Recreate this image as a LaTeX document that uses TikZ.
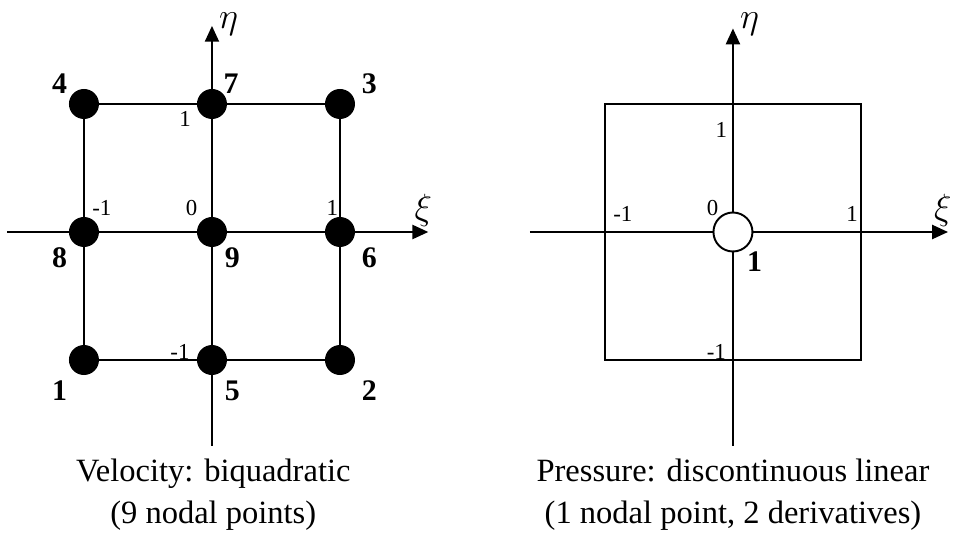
\documentclass[tikz,border=0pt]{standalone}
\usepackage{fontspec}
\setmainfont{Liberation Serif}
\usetikzlibrary{arrows.meta}

\begin{document}
\begin{tikzpicture}[x=2.56cm, y=2.56cm]
        \tikzset{axis/.style={line width=1.1pt, -{Triangle[length=9pt,width=8pt]}}}
        \tikzset{edge/.style={line width=1.1pt}}
        \tikzset{dotnode/.style={circle, fill=black, inner sep=0pt, minimum size=0.6cm}}
        \tikzset{opennode/.style={circle, draw=black, fill=white, line width=1.1pt, inner sep=0pt, minimum size=0.78cm}}
        \tikzset{numlabel/.style={font=\fontsize{17}{20}\selectfont\bfseries, inner sep=0pt}}
        \tikzset{ticklabel/.style={font=\fontsize{13}{15}\selectfont, inner sep=0pt}}
        \tikzset{axislabel/.style={font=\fontsize{20}{22}\selectfont, inner sep=0pt}}
        \tikzset{caption/.style={font=\fontsize{18.5}{23.8}\selectfont, align=center, inner sep=0pt}}

        \useasboundingbox (-1.656,-2.375) rectangle (5.8125,1.8125);

        % velocity element
        \coordinate (xl) at (-1.60,0);
        \coordinate (xr) at (1.69,0);
        \coordinate (yb) at (0,-1.67);
        \coordinate (yt) at (0,1.61);
        \draw[axis] (xl) -- (xr);
        \draw[axis] (yb) -- (yt);
        \node[axislabel] (xi1) at (1.65,0.17) {$\xi$};
        \node[axislabel] (eta1) at (0.13,1.62) {$\eta$};

        \node[dotnode] (n1) at (-1,-1) {};
        \node[dotnode] (n5) at (0,-1) {};
        \node[dotnode] (n2) at (1,-1) {};
        \node[dotnode] (n8) at (-1,0) {};
        \node[dotnode] (n9) at (0,0) {};
        \node[dotnode] (n6) at (1,0) {};
        \node[dotnode] (n4) at (-1,1) {};
        \node[dotnode] (n7) at (0,1) {};
        \node[dotnode] (n3) at (1,1) {};

        \draw[edge] (n1) -- (n5) -- (n2) -- (n6) -- (n3) -- (n7) -- (n4) -- (n8) -- (n1);

        \node[numlabel] (l4) at (-1.19,1.16) {4};
        \node[numlabel] (l7) at (0.15,1.16) {7};
        \node[numlabel] (l3) at (1.23,1.16) {3};
        \node[numlabel] (l8) at (-1.19,-0.2) {8};
        \node[numlabel] (l9) at (0.16,-0.2) {9};
        \node[numlabel] (l6) at (1.23,-0.2) {6};
        \node[numlabel] (l1) at (-1.19,-1.24) {1};
        \node[numlabel] (l5) at (0.16,-1.24) {5};
        \node[numlabel] (l2) at (1.23,-1.24) {2};

        \node[ticklabel] (t1) at (-0.21,0.88) {1};
        \node[ticklabel] (t2) at (-0.86,0.19) {-1};
        \node[ticklabel] (t3) at (-0.16,0.19) {0};
        \node[ticklabel] (t4) at (0.94,0.19) {1};
        \node[ticklabel] (t5) at (-0.25,-0.94) {-1};

        \node[caption] (cap1) at (0.01,-2.05) {Velocity: biquadratic\\(9 nodal points)};

        % pressure element
        \begin{scope}[shift={(4.07,0)}]
            \coordinate (pxl) at (-1.586,0);
            \coordinate (pxr) at (1.68,0);
            \coordinate (pyb) at (0,-1.67);
            \coordinate (pyt) at (0,1.59);
            \draw[edge] (-1,-1) rectangle (1,1);
            \draw[axis] (pxl) -- (pxr);
            \draw[axis] (pyb) -- (pyt);
            \node[axislabel] (xi2) at (1.64,0.17) {$\xi$};
            \node[axislabel] (eta2) at (0.13,1.62) {$\eta$};

            \node[opennode] (p1) at (0,0) {};

            \node[numlabel] (lp1) at (0.17,-0.23) {1};

            \node[ticklabel] (s1) at (-0.09,0.80) {1};
            \node[ticklabel] (s2) at (-0.86,0.14) {-1};
            \node[ticklabel] (s3) at (-0.16,0.19) {0};
            \node[ticklabel] (s4) at (0.93,0.14) {1};
            \node[ticklabel] (s5) at (-0.13,-0.94) {-1};

            \node[caption] (cap2) at (0,-2.05) {Pressure: discontinuous linear\\(1 nodal point, 2 derivatives)};
        \end{scope}
    \end{tikzpicture}
\end{document}
